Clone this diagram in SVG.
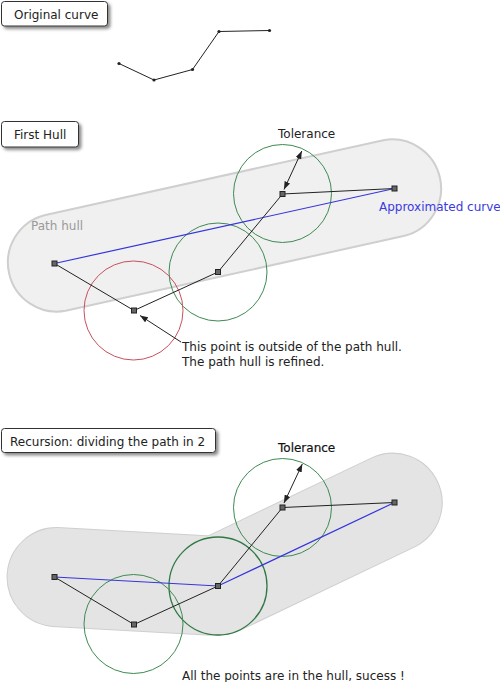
<svg xmlns="http://www.w3.org/2000/svg" width="500" height="682" viewBox="0 0 500 682">
<style>
text{font-family:"DejaVu Sans","Verdana",sans-serif;font-size:12px;fill:#222}
.box{fill:#fff;stroke:#333;stroke-width:1}
.hull1{fill:#f0f0f0;stroke:#cfcfcf;stroke-width:2}
.hull2{fill:#e4e4e4;stroke:#cfcfcf;stroke-width:2}
.hullfill{fill:#e4e4e4;stroke:none}
.curve{fill:none;stroke:#222;stroke-width:1}
.approx{fill:none;stroke:#3535dd;stroke-width:1.2}
.green{fill:none;stroke:#3d8a52;stroke-width:1}
.red{fill:none;stroke:#c8505e;stroke-width:1}
.pt{fill:#666;stroke:#222;stroke-width:1}
.dot{fill:#222}
.arr{fill:none;stroke:#222;stroke-width:1}
</style>
<defs>
<filter id="sh" x="-10%" y="-30%" width="130%" height="180%">
<feDropShadow dx="2.5" dy="2.5" stdDeviation="1.5" flood-color="#000" flood-opacity="0.45"/>
</filter>
<marker id="ah" viewBox="0 0 8 6" refX="8" refY="3" markerWidth="8" markerHeight="6" markerUnits="userSpaceOnUse" orient="auto-start-reverse">
<path d="M0,0 L8,3 L0,6 Z" fill="#222"/>
</marker>
</defs>

<!-- Section 1 -->
<g id="label-original">
<rect class="box" x="1.5" y="1.5" width="106" height="24.5" rx="3" filter="url(#sh)"/>
<text x="14" y="18.5">Original curve</text>
</g>
<g id="original-curve">
<polyline class="curve" points="119,63.5 154,80 192.5,69.5 219,31.5 269.5,30.5"/>
<circle class="dot" cx="119" cy="63.5" r="1.6"/>
<circle class="dot" cx="154" cy="80" r="1.6"/>
<circle class="dot" cx="192.5" cy="69.5" r="1.6"/>
<circle class="dot" cx="219" cy="31.5" r="1.6"/>
<circle class="dot" cx="269.5" cy="30.5" r="1.6"/>
</g>

<!-- Section 2 -->
<g id="label-first">
<rect class="box" x="1.5" y="121.5" width="77" height="25.5" rx="3" filter="url(#sh)"/>
<text x="14" y="139">First Hull</text>
</g>
<g id="hull-first">
<path class="hull1" d="M44.4,215.2 L383.4,140.2 A49,49 0 0 1 404.6,235.8 L65.6,310.8 A49,49 0 0 1 44.4,215.2 Z"/>
<text x="31" y="230" style="fill:#999">Path hull</text>
</g>
<g id="circles-first">
<circle class="green" cx="282.5" cy="193.5" r="49"/>
<circle class="green" cx="218" cy="272" r="49"/>
<circle class="red" cx="133.5" cy="310.5" r="49.5"/>
</g>
<g id="connectors-first">
<line class="approx" x1="54.5" y1="263.5" x2="394.5" y2="188.5"/>
<polyline class="curve" points="54.5,263.5 134,310.5 218,272 282.5,194 394.5,188.5"/>
<line class="arr" x1="284" y1="189.5" x2="301.8" y2="151" marker-start="url(#ah)" marker-end="url(#ah)"/>
<line class="arr" x1="181" y1="342" x2="140" y2="315.5" marker-end="url(#ah)"/>
</g>
<g id="points-first">
<rect class="pt" x="52" y="261" width="5" height="5"/>
<rect class="pt" x="131.5" y="308" width="5" height="5"/>
<rect class="pt" x="215.5" y="269.5" width="5" height="5"/>
<rect class="pt" x="280" y="191.5" width="5" height="5"/>
<rect class="pt" x="392" y="186" width="5" height="5"/>
</g>
<g id="texts-first">
<text x="278" y="137.5">Tolerance</text>
<text x="379" y="211" style="fill:#3a3ae0">Approximated curve</text>
<text x="182" y="351">This point is outside of the path hull.</text>
<text x="182" y="365.5">The path hull is refined.</text>
</g>

<!-- Section 3 -->
<g id="label-recursion">
<rect class="box" x="1.5" y="428.5" width="214" height="24" rx="3" filter="url(#sh)"/>
<text x="10" y="446">Recursion: dividing the path in 2</text>
</g>
<g id="hull-second">
<path class="hull2" d="M57.7,528.1 L220.7,537.1 A49,49 0 0 1 215.3,634.9 L52.3,625.9 A49,49 0 0 1 57.7,528.1 Z"/>
<path class="hull2" d="M196.9,541.8 L372.9,457.8 A49,49 0 0 1 415.1,546.2 L239.1,630.2 A49,49 0 0 1 196.9,541.8 Z"/>
<path class="hullfill" d="M57.7,528.1 L220.7,537.1 A49,49 0 0 1 215.3,634.9 L52.3,625.9 A49,49 0 0 1 57.7,528.1 Z"/>
<path class="hullfill" d="M196.9,541.8 L372.9,457.8 A49,49 0 0 1 415.1,546.2 L239.1,630.2 A49,49 0 0 1 196.9,541.8 Z"/>
</g>
<g id="circles-second">
<circle class="green" cx="282.5" cy="507.5" r="49"/>
<circle class="green" cx="218" cy="586" r="49" style="stroke:#2f7a44;stroke-width:1.3"/>
<circle class="green" cx="133.5" cy="624" r="49.5"/>
</g>
<g id="connectors-second">
<polyline class="approx" points="54.5,577 218,586 394.5,502.5"/>
<polyline class="curve" points="54.5,577 134,624.5 218,586 282.5,507.5 394.5,502.5"/>
<line class="arr" x1="284" y1="503" x2="302.3" y2="464" marker-start="url(#ah)" marker-end="url(#ah)"/>
</g>
<g id="points-second">
<rect class="pt" x="52" y="574.5" width="5" height="5"/>
<rect class="pt" x="131.5" y="622" width="5" height="5"/>
<rect class="pt" x="215.5" y="583.5" width="5" height="5"/>
<rect class="pt" x="280" y="505" width="5" height="5"/>
<rect class="pt" x="392" y="500" width="5" height="5"/>
</g>
<g id="texts-second">
<text x="278" y="452" style="fill:#111;stroke:#111;stroke-width:0.2">Tolerance</text>
<text x="182" y="680">All the points are in the hull, sucess !</text>
</g>
</svg>
